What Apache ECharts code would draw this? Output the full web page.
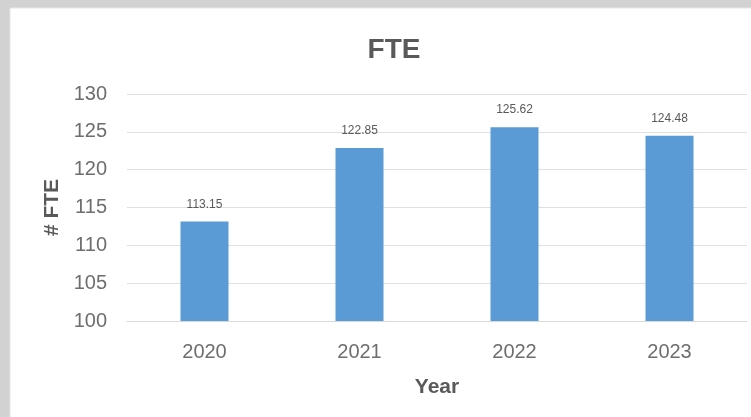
<!DOCTYPE html>
<html>
<head>
<meta charset="utf-8">
<script src="https://cdn.jsdelivr.net/npm/echarts@6/dist/echarts.min.js"></script>
<style>
  html, body { margin: 0; padding: 0; background: #d2d2d2; }
  #chart { width: 751px; height: 417px; }
</style>
</head>
<body>
<div id="chart"></div>
<script>
// FTE headcount per year
const years = ['2020', '2021', '2022', '2023'];
const fteValues = [113.15, 122.85, 125.62, 124.48];
const yTicks = { min: 100, max: 130, step: 5 };

const FONT = '"Liberation Sans", Arial, sans-serif';
const TEXT = '#595959';
const TICK_TEXT = '#6e6e6e';

const chart = echarts.init(document.getElementById('chart'), null, { renderer: 'canvas' });
chart.setOption({
  backgroundColor: '#d2d2d2',
  animation: false,
  graphic: [{
    type: 'rect',
    z: -10,
    shape: { x: 10, y: 8, width: 760, height: 420 },
    style: { fill: '#ffffff', stroke: '#e6e6e6', lineWidth: 1 }
  }],
  title: {
    text: 'FTE',
    left: 389,
    top: 31,
    textAlign: 'center',
    textStyle: { fontFamily: FONT, fontSize: 28, fontWeight: 'bold', color: TEXT }
  },
  grid: { left: 127, right: 4, top: 94, bottom: 96, containLabel: false },
  xAxis: {
    type: 'category',
    data: years,
    name: 'Year',
    nameLocation: 'middle',
    nameGap: 56,
    nameTextStyle: { fontFamily: FONT, fontSize: 21, fontWeight: 'bold', color: TEXT },
    axisLine: { show: true, lineStyle: { color: '#d9d9d9', width: 1 } },
    axisTick: { show: false },
    axisLabel: { fontFamily: FONT, fontSize: 20, color: TICK_TEXT, margin: 21 }
  },
  yAxis: {
    type: 'value',
    min: yTicks.min,
    max: yTicks.max,
    interval: yTicks.step,
    name: '# FTE',
    nameLocation: 'middle',
    nameGap: 63,
    nameTextStyle: { fontFamily: FONT, fontSize: 21, fontWeight: 'bold', color: TEXT },
    axisLine: { show: false },
    axisTick: { show: false },
    axisLabel: { fontFamily: FONT, fontSize: 20, color: TICK_TEXT, margin: 20 },
    splitLine: { lineStyle: { color: '#e0e0e0', width: 1 } }
  },
  series: [{
    type: 'bar',
    data: fteValues,
    barWidth: 48,
    itemStyle: { color: '#5b9bd5' },
    label: {
      show: true,
      position: 'top',
      distance: 11,
      fontFamily: FONT,
      fontSize: 12,
      color: TEXT,
      formatter: p => p.value.toFixed(2)
    }
  }]
});
</script>
</body>
</html>
